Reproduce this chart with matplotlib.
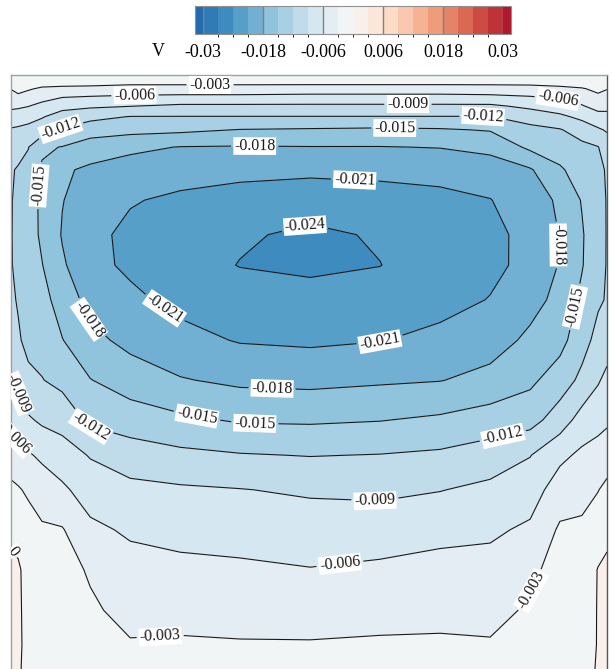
import numpy as np
import matplotlib.pyplot as plt
from matplotlib.colors import ListedColormap, BoundaryNorm

plt.rcParams['font.family'] = ['Liberation Serif', 'DejaVu Serif']
plt.rcParams['axes.unicode_minus'] = False

# sample positions in the cavity (0 = left / bottom wall, 1 = right / top wall)
x_pos = [0.0, 0.012, 0.029, 0.052, 0.086, 0.133, 0.2, 0.284, 0.384,
         0.502, 0.619, 0.72, 0.804, 0.871, 0.921, 0.958, 0.985, 1.0]
# rows listed from the top wall down
y_pos = [1.0, 0.988, 0.977, 0.963, 0.948, 0.93, 0.908, 0.879, 0.841, 0.79,
         0.732, 0.681, 0.623, 0.555, 0.488, 0.421, 0.362, 0.304, 0.237,
         0.17, 0.102, 0.044, 0.0]

# V, in units of 1e-3
v_rows = [
    [-0.5] * 18,
    [-1.3, -1.3, -1.5, -1.8, -1.8, -1.8, -2.2, -2.2, -2.2, -2.2, -2.2, -2.2, -2.2, -2.2, -1.8, -1.6, -1.3, -1.6],
    [-2.9, -2.4, -2.7, -3.4, -3.7, -3.9, -4.2, -4.2, -4.2, -4.3, -4.3, -4.3, -4.2, -4.0, -3.7, -3.2, -2.4, -2.9],
    [-4.0, -3.4, -4.2, -5.0, -5.9, -6.2, -6.5, -6.7, -6.7, -6.9, -6.9, -6.9, -6.7, -6.2, -5.6, -4.7, -3.5, -3.9],
    [-5.4, -5.5, -5.9, -6.8, -8.1, -8.5, -8.9, -9.5, -9.5, -9.5, -9.5, -9.5, -9.5, -8.3, -7.4, -6.2, -5.0, -5.2],
    [-7.2, -7.5, -7.9, -8.8, -10.2, -11.2, -12.1, -12.1, -12.1, -12.1, -12.1, -12.1, -12.1, -10.8, -9.6, -8.3, -7.0, -6.8],
    [-9.3, -9.5, -9.9, -10.5, -12.3, -13.6, -14.1, -14.4, -15.1, -15.3, -15.5, -15.3, -14.8, -12.8, -12.2, -10.7, -9.4, -8.7],
    [-11.1, -11.2, -11.9, -14.6, -15.1, -16.5, -17.4, -18.1, -18.2, -18.1, -18.1, -17.9, -17.3, -14.4, -13.5, -12.7, -12.1, -10.6],
    [-11.8, -12.2, -12.8, -15.3, -17.6, -18.5, -19.2, -19.9, -20.3, -20.4, -20.4, -20.1, -19.3, -18.3, -15.4, -13.6, -12.5, -11.8],
    [-11.9, -12.4, -13.4, -15.7, -17.9, -19.4, -20.8, -21.5, -22.0, -22.6, -22.0, -21.7, -21.1, -19.2, -17.6, -14.8, -12.7, -11.9],
    [-11.9, -12.5, -13.7, -15.5, -18.2, -20.3, -21.6, -22.4, -23.6, -24.6, -23.7, -22.6, -21.7, -20.2, -17.9, -15.3, -12.8, -11.9],
    [-11.9, -12.4, -13.7, -14.9, -17.6, -20.2, -21.5, -22.7, -24.1, -24.5, -24.05, -22.6, -21.6, -20.3, -17.8, -15.2, -12.7, -11.9],
    [-11.6, -12.2, -13.4, -14.0, -16.3, -19.0, -20.4, -21.8, -22.6, -23.1, -22.8, -21.9, -20.9, -19.0, -17.2, -14.3, -12.4, -11.8],
    [-10.3, -11.7, -12.7, -13.0, -14.9, -17.2, -18.8, -20.1, -21.2, -21.5, -21.1, -20.3, -19.3, -17.4, -16.0, -13.1, -11.1, -10.5],
    [-8.7, -9.7, -11.4, -11.9, -12.8, -14.9, -16.5, -17.8, -18.6, -18.8, -18.4, -18.1, -17.1, -15.6, -13.5, -11.3, -9.3, -8.2],
    [-6.9, -7.5, -8.6, -9.5, -10.1, -12.6, -13.4, -14.4, -15.3, -15.4, -15.1, -14.5, -13.6, -13.1, -10.5, -7.8, -6.9, -6.4],
    [-4.7, -5.2, -5.7, -6.5, -7.6, -9.2, -10.6, -11.3, -11.8, -12.1, -11.9, -11.5, -10.6, -9.1, -6.7, -5.4, -4.9, -4.6],
    [-2.3, -2.7, -3.5, -4.5, -5.5, -7.3, -8.2, -8.6, -8.9, -9.4, -9.5, -9.1, -8.3, -7.4, -4.5, -3.9, -3.1, -2.2],
    [-0.5, -0.8, -1.6, -2.6, -2.8, -5.4, -6.4, -6.9, -7.2, -7.5, -7.7, -6.8, -6.5, -5.5, -2.6, -2.5, -1.3, -0.5],
    [0.5, 0.3, -0.8, -1.8, -2.0, -3.3, -5.0, -5.3, -5.5, -5.9, -5.4, -5.1, -5.0, -3.4, -2.3, -1.5, 0.1, 0.4],
    [0.6, 0.3, -0.6, -1.4, -1.8, -2.6, -3.8, -3.8, -4.0, -4.2, -3.8, -3.6, -3.7, -2.7, -1.7, -1.0, 0.1, 0.5],
    [0.6, 0.3, -0.5, -1.2, -1.7, -2.2, -2.8, -2.7, -2.8, -2.8, -2.7, -2.7, -2.8, -2.2, -1.4, -0.9, 0.1, 0.5],
    [0.5, 0.2, -0.5, -1.1, -1.5, -1.8, -2.1, -2.2, -2.2, -2.2, -2.2, -2.2, -2.2, -1.8, -1.2, -0.8, 0.2, 0.4],
]

cbar_ticks = [-0.03, -0.018, -0.006, 0.006, 0.018, 0.03]
cbar_ticklabels = ['-0.03', '-0.018', '-0.006', '0.006', '0.018', '0.03']

# where the inline labels sit (nearest contour gets the label)
label_spots = [
    (0.334, 0.983), (0.208, 0.966), (0.666, 0.951), (0.918, 0.961),
    (0.082, 0.911), (0.792, 0.930), (0.644, 0.913), (0.409, 0.883),
    (0.577, 0.832), (0.493, 0.748), (0.040, 0.815), (0.129, 0.589),
    (0.250, 0.597), (0.619, 0.552), (0.913, 0.715), (0.933, 0.614),
    (0.438, 0.471), (0.312, 0.428), (0.409, 0.414), (0.133, 0.408),
    (0.826, 0.391), (0.007, 0.463), (0.007, 0.393), (0.611, 0.292),
    (0.552, 0.178), (0.007, 0.203), (0.250, 0.064), (0.871, 0.136),
]

levels = np.linspace(-0.03, 0.03, 21)
V = np.array(v_rows) * 1e-3
X, Y = np.meshgrid(x_pos, y_pos)

base = plt.get_cmap('RdBu_r')(np.linspace(0.11, 0.9, 22))
cmap = ListedColormap(base[1:-1])
cmap.set_under(base[0])
cmap.set_over(base[-1])
norm = BoundaryNorm(levels, cmap.N)

fig = plt.figure(figsize=(6.12, 6.69), dpi=100)
ax = fig.add_axes([11 / 612, -2 / 669, 596 / 612, 596 / 669])
cf = ax.contourf(X, Y, V, levels=levels, cmap=cmap, norm=norm, extend='both')
cs = ax.contour(X, Y, V, levels=levels, colors='#1a1a1a', linewidths=0.8,
                linestyles='solid', negative_linestyles='solid')


def fmt(v):
    if abs(v) < 1e-9:
        return '0'
    return '%.3f' % v


labels = ax.clabel(cs, manual=label_spots, inline=True, fmt=fmt,
                   fontsize=11.5, inline_spacing=3)
for t in labels:
    t.set_bbox(dict(facecolor='white', edgecolor='none', pad=0.6))
    t.set_clip_box(ax.bbox)
    t.set_clip_on(True)

ax.set_xlim(0, 1)
ax.set_ylim(0, 1)
ax.set_xticks([])
ax.set_yticks([])
for side, sp in ax.spines.items():
    sp.set_color('#555555' if side == 'right' else '#a0a0a0')
    sp.set_linewidth(1.0)

cax = fig.add_axes([195 / 612, 1 - 34 / 669, 316 / 612, 28 / 669])
cb = fig.colorbar(cf, cax=cax, orientation='horizontal', extend='both',
                  extendrect=True, extendfrac=8 / 300, ticks=cbar_ticks)
cb.set_ticklabels(cbar_ticklabels)
cb.ax.tick_params(length=0, pad=7, labelsize=13)
cb.outline.set_edgecolor('#909090')
cb.outline.set_linewidth(0.8)
for v in cbar_ticks:
    cb.ax.axvline(v, color='#808080', lw=1.0)

fig.text(158 / 612, 1 - 52 / 669, 'V', fontsize=13, ha='center', va='center')

fig.savefig('out.png', dpi=100)
